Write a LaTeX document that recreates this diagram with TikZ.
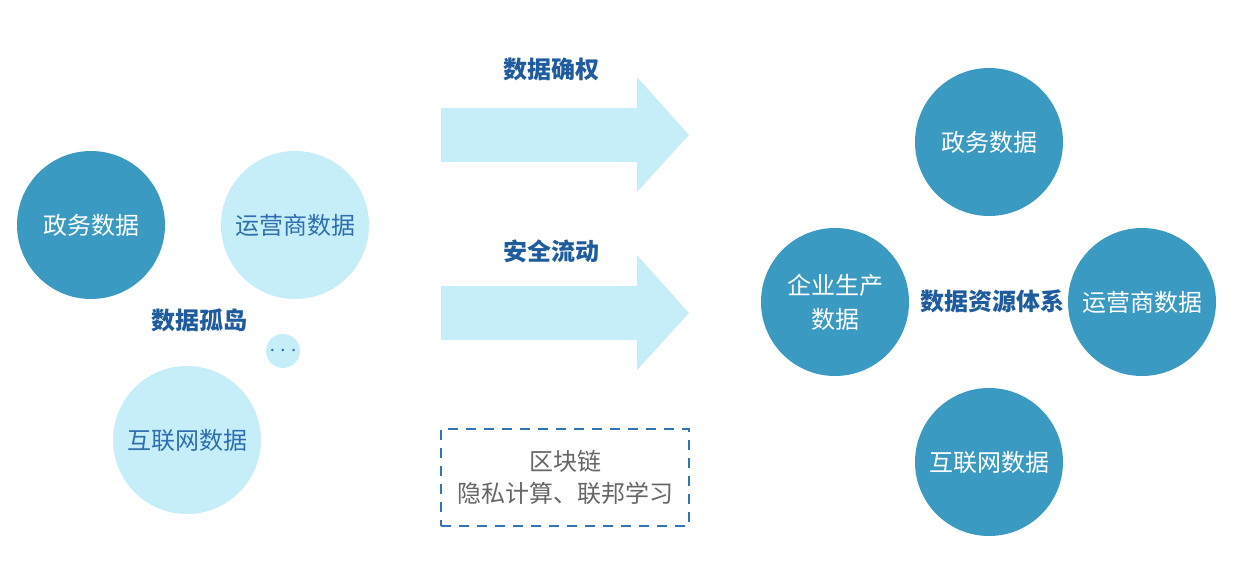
\documentclass[tikz,border=0pt]{standalone}
\usepackage{fontspec}
\usepackage{xcolor}
\usepackage{tikz}
\setmainfont{Noto Sans CJK SC}
\definecolor{deep}{HTML}{3A9AC2}
\definecolor{sky}{HTML}{C5EEF9}
\definecolor{ink}{HTML}{1F5C9E}
\definecolor{mid}{HTML}{2F6FAE}
\definecolor{stone}{HTML}{666666}
\definecolor{rim}{HTML}{2E75B6}

\begin{document}
\begin{tikzpicture}[x=0.5pt,y=-0.5pt,darkdot/.style={circle,fill=deep,minimum size=74pt,inner sep=0pt,align=center,text=white,font=\fontsize{12}{17}\selectfont},lightdot/.style={circle,fill=sky,minimum size=74pt,inner sep=0pt,align=center,text=mid,font=\fontsize{12}{17}\selectfont},title/.style={text=ink,font=\bfseries\fontsize{12}{14}\selectfont},flow/.style={fill=sky,draw=none}]
\useasboundingbox (0,0) rectangle (1238,583);
% left side: isolated data
\node[darkdot] (gov) at (91,225) {政务数据};
\node[lightdot] (carrier) at (295,225) {运营商数据};
\node[lightdot] (web) at (187,440) {互联网数据};
\node[lightdot,minimum size=17pt,font=\fontsize{12}{12}\selectfont] (more) at (283,351) {$\cdots$};
\node[title] (island) at (199,320) {数据孤岛};
% arrows
\node[title] (rights) at (551,69) {数据确权};
\fill[flow] (441,108) -- (637,108) -- (637,77) -- (689,135) -- (637,192) -- (637,162) -- (441,162) -- cycle;
\node[title] (secure) at (551,251) {安全流动};
\fill[flow] (441,286) -- (637,286) -- (637,255) -- (689,313) -- (637,370) -- (637,340) -- (441,340) -- cycle;
\node[draw=rim,dash pattern=on 5pt off 4pt,line width=0.8pt,minimum width=124pt,minimum height=48.5pt,align=center,text=stone,font=\fontsize{12}{16}\selectfont] (tech) at (565,477.5) {区块链\\隐私计算、联邦学习};
% right side: resource system
\node[darkdot] (gov2) at (989,142) {政务数据};
\node[darkdot] (firm) at (835,302) {企业生产\\数据};
\node[darkdot] (carrier2) at (1142,302) {运营商数据};
\node[darkdot] (web2) at (989,462) {互联网数据};
\node[title] (system) at (992,301) {数据资源体系};
\end{tikzpicture}
\end{document}
